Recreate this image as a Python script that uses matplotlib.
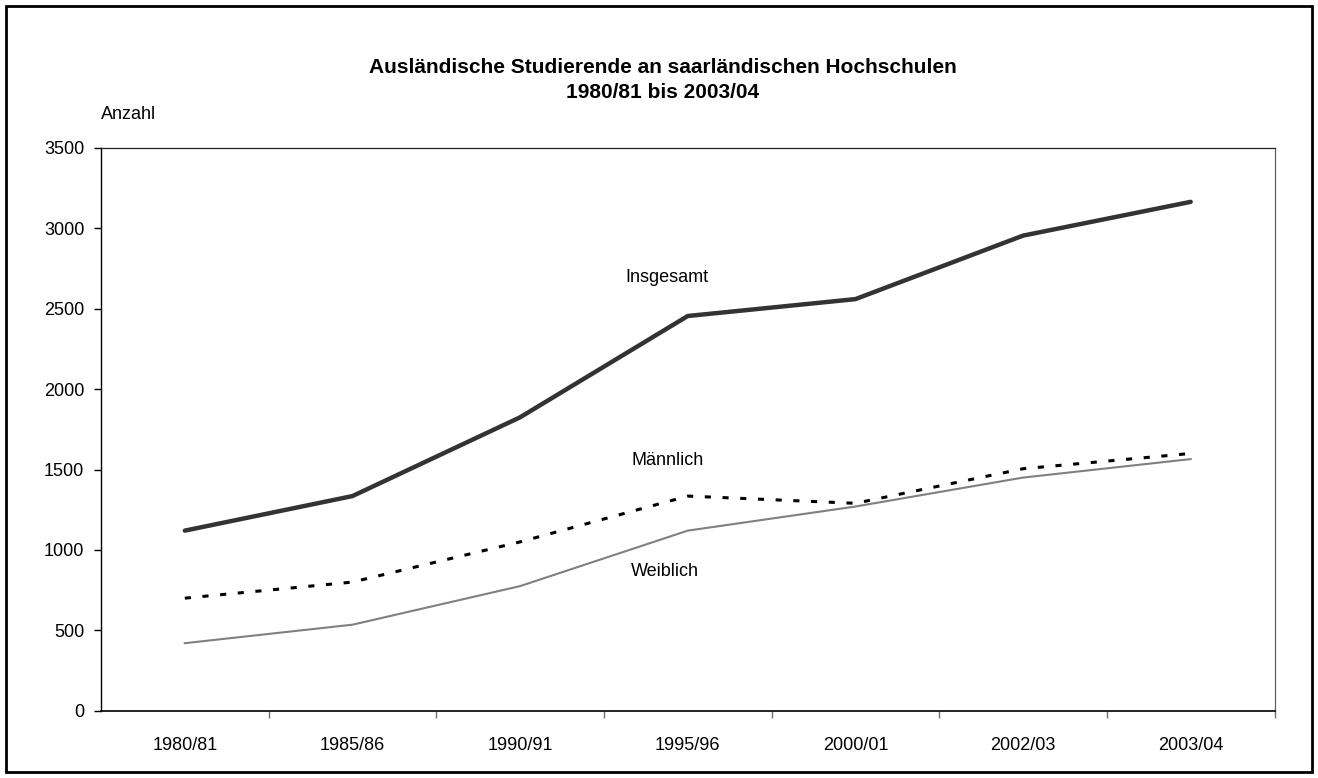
import matplotlib
matplotlib.use('Agg')
import matplotlib.pyplot as plt
from matplotlib.patches import Rectangle

plt.rcParams['font.family'] = ['Liberation Sans', 'DejaVu Sans']

semester = ['1980/81', '1985/86', '1990/91', '1995/96', '2000/01', '2002/03', '2003/04']
insgesamt = [1120, 1335, 1825, 2455, 2560, 2955, 3165]
maennlich = [700, 800, 1050, 1335, 1290, 1505, 1600]
weiblich = [420, 535, 775, 1120, 1270, 1450, 1565]
y_ticks = [0, 500, 1000, 1500, 2000, 2500, 3000, 3500]

fig = plt.figure(figsize=(13.18, 7.78), dpi=100)
ax = fig.add_axes([101 / 1318, 1 - 710.7 / 778, (1274.5 - 101) / 1318, (710.7 - 148) / 778])

x = list(range(len(semester)))
ax.plot(x, insgesamt, color='#333333', lw=3.2, solid_capstyle='round', solid_joinstyle='round')
ax.plot(x, maennlich, color='black', lw=2.2, dashes=(2, 3.8))
ax.plot(x, weiblich, color='#808080', lw=1.5)

ax.set_xlim(-0.5, len(semester) - 0.5)
ax.set_ylim(0, 3500)
ax.set_yticks(y_ticks)
ax.set_yticklabels([str(v) for v in y_ticks])
ax.set_xticks(x)
ax.set_xticklabels(semester)
ax.set_xticks([i + 0.5 for i in x], minor=True)

ax.tick_params(axis='x', which='major', length=0, pad=19, labelsize=13)
ax.tick_params(axis='x', which='minor', length=5, width=1, color='#707070', direction='out')
ax.tick_params(axis='y', length=5, width=1, pad=7, labelsize=13, direction='out')

ax.spines['left'].set_color('black')
ax.spines['bottom'].set_color('black')
ax.spines['left'].set_linewidth(1.0)
ax.spines['bottom'].set_linewidth(1.2)
ax.spines['top'].set_color('#202020')
ax.spines['right'].set_color('#606060')
ax.spines['top'].set_linewidth(0.9)
ax.spines['right'].set_linewidth(0.9)

ax.text(2.627, 2694, 'Insgesamt', ha='left', va='center', fontsize=13)
ax.text(2.662, 1555, 'Männlich', ha='left', va='center', fontsize=13)
ax.text(2.662, 864, 'Weiblich', ha='left', va='center', fontsize=13)

fig.text(662.5 / 1318, 1 - 73.3 / 778, 'Ausländische Studierende an saarländischen Hochschulen',
         ha='center', va='baseline', fontsize=15, fontweight='bold')
fig.text(662.5 / 1318, 1 - 98 / 778, '1980/81 bis 2003/04',
         ha='center', va='baseline', fontsize=15, fontweight='bold')
fig.text(101 / 1318, 1 - 119.3 / 778, 'Anzahl', ha='left', va='baseline', fontsize=13)

fig.patches.append(Rectangle((6 / 1318, 1 - 772 / 778), 1306 / 1318, 766 / 778,
                             transform=fig.transFigure, fill=False, edgecolor='black', lw=2.0))

fig.savefig('out.png', dpi=100)
